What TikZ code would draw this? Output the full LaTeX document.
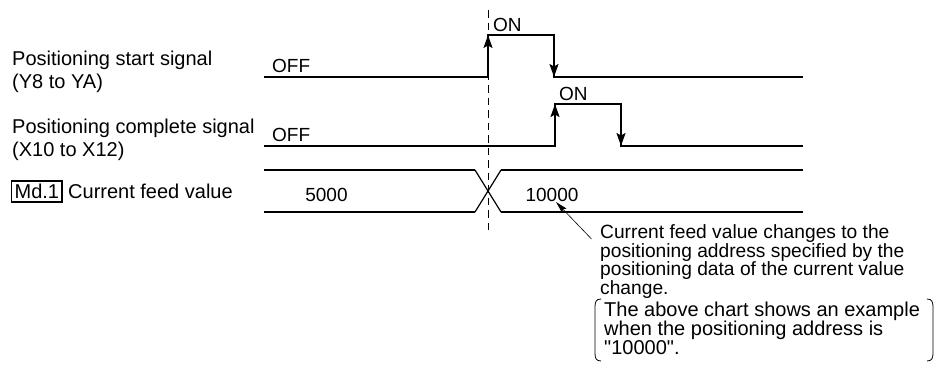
\documentclass[tikz,border=0pt]{standalone}
\usepackage{fontspec}
\setmainfont{Liberation Sans}[Ligatures=TeXOff]
\usetikzlibrary{arrows.meta}
\begin{document}
\begin{tikzpicture}[x=1pt,y=-1pt,
  sig/.style={line width=1.8pt, line join=miter},
  edgearrow/.style={line width=1.8pt, -{Stealth[length=13pt,width=9pt,inset=2.5pt]}},
  cross/.style={line width=1.2pt},
  dashline/.style={line width=0.9pt, dash pattern=on 7.5pt off 5pt},
  lbl/.style={anchor=north west, inner sep=0pt, align=left, font=\fontsize{20}{23}\selectfont},
  wtxt/.style={inner sep=0pt, font=\fontsize{19}{22}\selectfont},
  note/.style={anchor=north west, inner sep=0pt, align=left, font=\fontsize{19.2}{18.5}\selectfont},
  bnote/.style={anchor=north west, inner sep=0pt, align=left, font=\fontsize{20}{18.5}\selectfont},
  notearrow/.style={line width=0.6pt, -{Stealth[length=12pt,width=6pt,inset=2pt]}},
  paren/.style={line width=0.8pt}
]
\useasboundingbox (0,0) rectangle (937,367);

% left labels
\node[lbl] (lstart) at (12,50.5) {Positioning start signal\\(Y8 to YA)};
\node[lbl] (lcomp) at (12,118.5) {Positioning complete signal\\(X10 to X12)};
\node[draw, line width=1.2pt, anchor=west, minimum height=21pt, inner xsep=3pt, inner ysep=0pt,
      font=\fontsize{20}{23}\selectfont] (md) at (11,191.5) {Md.1};
\node[anchor=base west, inner sep=0pt, font=\fontsize{20}{23}\selectfont] (lcur) at (68,198.5) {Current feed value};

% start signal waveform
\coordinate (a0) at (264,77);
\coordinate (a1) at (488,77);
\coordinate (a2) at (488,35);
\coordinate (a3) at (554,35);
\coordinate (a4) at (554,77);
\coordinate (a5) at (803,77);
\draw[sig] (a0) -- (a1) -- (a2) -- (a3) -- (a4) -- (a5);
\draw[edgearrow] (a1) -- (a2);
\draw[edgearrow] (a3) -- (a4);
\node[wtxt, anchor=base west] (off1) at (272,72) {OFF};
\node[wtxt, anchor=west] (on1) at (493,24.5) {ON};

% complete signal waveform
\coordinate (b0) at (264,146);
\coordinate (b1) at (555,146);
\coordinate (b2) at (555,104);
\coordinate (b3) at (621,104);
\coordinate (b4) at (621,146);
\coordinate (b5) at (803,146);
\draw[sig] (b0) -- (b1) -- (b2) -- (b3) -- (b4) -- (b5);
\draw[edgearrow] (b1) -- (b2);
\draw[edgearrow] (b3) -- (b4);
\node[wtxt, anchor=base west] (off2) at (272,141) {OFF};
\node[wtxt, anchor=west] (on2) at (559,94) {ON};

% current feed value bus
\coordinate (c0t) at (264,170);
\coordinate (c0b) at (264,212);
\coordinate (c1t) at (475,170);
\coordinate (c1b) at (475,212);
\coordinate (c2t) at (501,170);
\coordinate (c2b) at (501,212);
\coordinate (c3t) at (803,170);
\coordinate (c3b) at (803,212);
\draw[sig] (c0t) -- (c1t);
\draw[sig] (c0b) -- (c1b);
\draw[sig] (c2t) -- (c3t);
\draw[sig] (c2b) -- (c3b);
\draw[cross] (c1t) -- (c2b);
\draw[cross] (c1b) -- (c2t);
\node[wtxt] (v5000) at (326.5,194.5) {5000};
\node[wtxt] (v10000) at (552,194.5) {10000};

% dashed timing line
\coordinate (d0) at (488,10);
\coordinate (d1) at (488,232);
\draw[dashline] (d0) -- (d1);

% annotation
\coordinate (ntip) at (556,202);
\coordinate (ntail) at (591.5,239);
\draw[notearrow] (ntail) -- (ntip);
\node[note] (note1) at (600,224.5) {Current feed value changes to the\\positioning address specified by the\\positioning data of the current value\\change.};
\node[bnote] (note2) at (604,301.5) {The above chart shows an example\\when the positioning address is\\"10000".};
\coordinate (lp1) at (601,299);
\coordinate (lp2) at (601,361);
\coordinate (rp1) at (927,299);
\coordinate (rp2) at (927,361);
\draw[paren] (lp1) .. controls (596,299) and (595,302) .. (595,307) -- (595,353) .. controls (595,358) and (596,361) .. (lp2);
\draw[paren] (rp1) .. controls (932,299) and (933,302) .. (933,307) -- (933,353) .. controls (933,358) and (932,361) .. (rp2);
\end{tikzpicture}
\end{document}
